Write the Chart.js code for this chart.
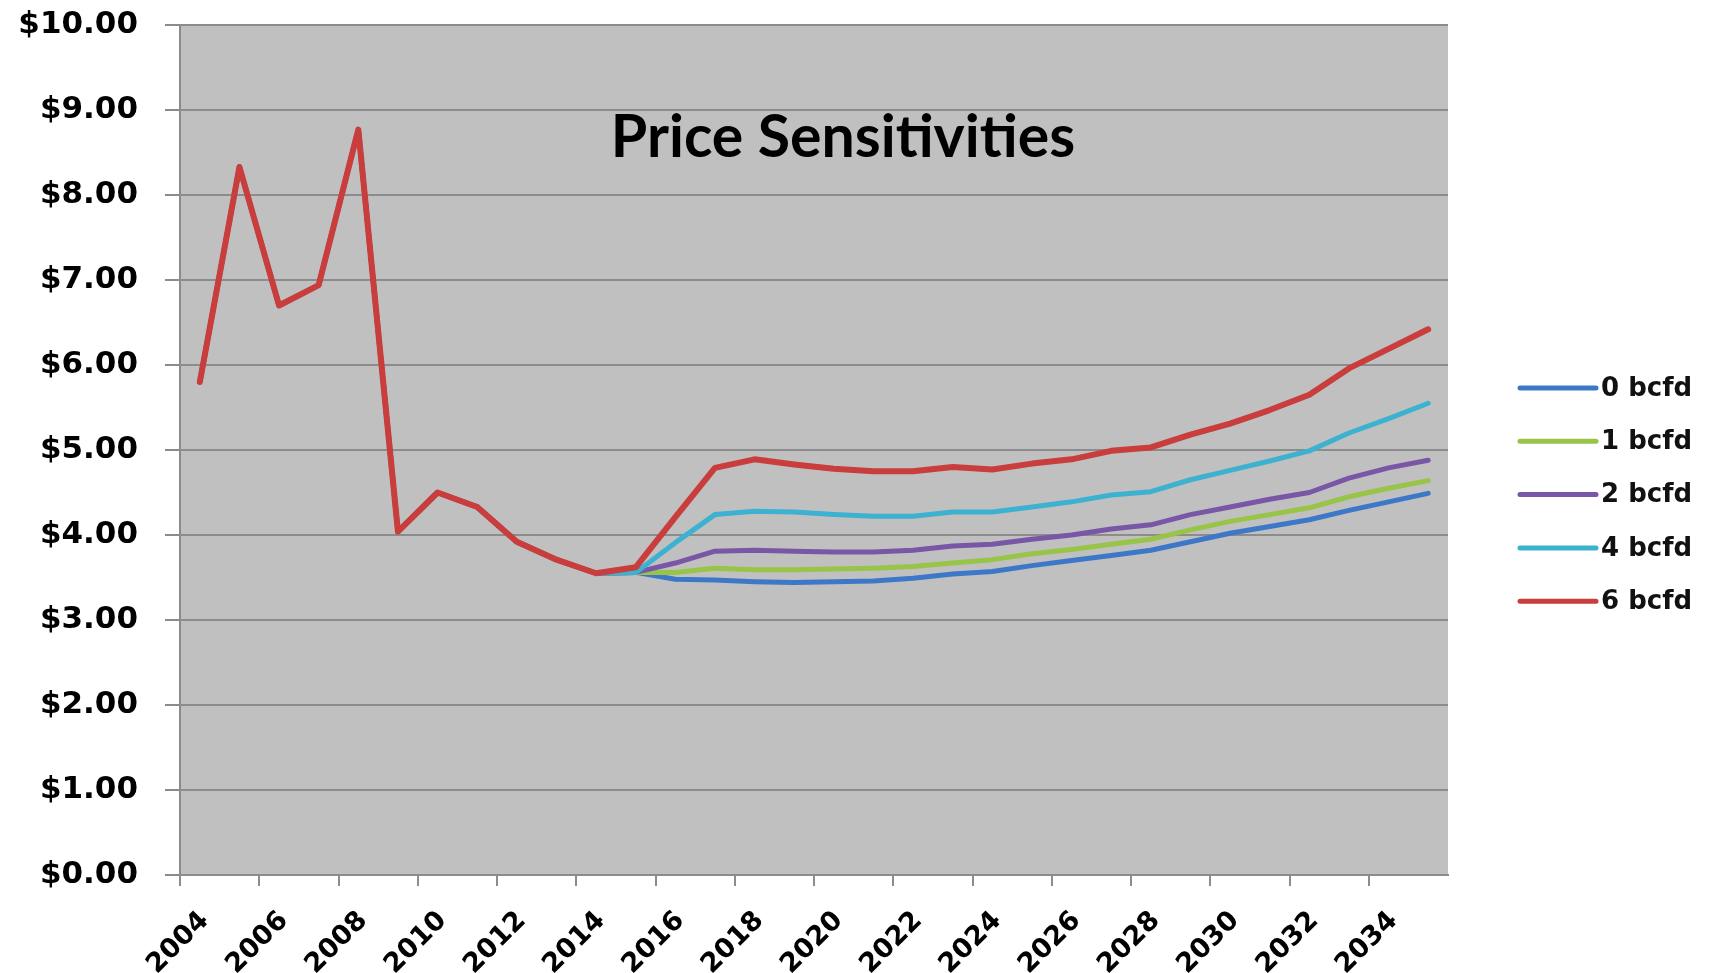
<!DOCTYPE html>
<html>
<head>
<meta charset="utf-8">
<title>Price Sensitivities</title>
<script src="https://cdn.jsdelivr.net/npm/chart.js@4"></script>
<style>
    body { margin: 0; background: #ffffff; }
    #wrap { width: 1709px; height: 973px; }
</style>
</head>
<body>
<div id="wrap"><canvas id="priceChart" width="1709" height="973"></canvas></div>
<script>

// years on the category axis
const years = ["2004","2005","2006","2007","2008","2009","2010","2011","2012","2013","2014",
    "2015","2016","2017","2018","2019","2020","2021","2022","2023","2024","2025",
    "2026","2027","2028","2029","2030","2031","2032","2033","2034","2035"];

// shared history 2004-2014 ($/MMBtu)
const history = [5.80, 8.33, 6.70, 6.94, 8.77, 4.04, 4.50, 4.33, 3.92, 3.71, 3.55];

// projections 2015-2035 for each export case
const bcfd0 = [3.56, 3.48, 3.47, 3.45, 3.44, 3.45, 3.46, 3.49, 3.54, 3.57, 3.64,
    3.70, 3.76, 3.82, 3.92, 4.02, 4.10, 4.18, 4.29, 4.39, 4.49];
const bcfd1 = [3.56, 3.56, 3.61, 3.59, 3.59, 3.60, 3.61, 3.63, 3.67, 3.71, 3.78,
    3.83, 3.89, 3.95, 4.06, 4.16, 4.24, 4.32, 4.45, 4.55, 4.64];
const bcfd2 = [3.56, 3.67, 3.81, 3.82, 3.81, 3.80, 3.80, 3.82, 3.87, 3.89, 3.95,
    4.00, 4.07, 4.12, 4.24, 4.33, 4.42, 4.50, 4.67, 4.79, 4.88];
const bcfd4 = [3.56, 3.91, 4.24, 4.28, 4.27, 4.24, 4.22, 4.22, 4.27, 4.27, 4.33,
    4.39, 4.47, 4.51, 4.65, 4.76, 4.87, 4.99, 5.20, 5.37, 5.55];
const bcfd6 = [3.62, 4.21, 4.79, 4.89, 4.83, 4.78, 4.75, 4.75, 4.80, 4.77, 4.84,
    4.89, 4.99, 5.03, 5.18, 5.31, 5.47, 5.65, 5.96, 6.19, 6.42];

const seriesNames = ["0 bcfd", "1 bcfd", "2 bcfd", "4 bcfd", "6 bcfd"];
const seriesColors = ["#3d78c8", "#98c448", "#7a56a6", "#3db1d0", "#c93d3d"];

// y ticks
const yMin = 0;
const yMax = 10;
const yStep = 1;

document.addEventListener("DOMContentLoaded", () => {

    const ctx = document.getElementById("priceChart");

    if(!ctx) return;

    const projections = [bcfd0, bcfd1, bcfd2, bcfd4, bcfd6];

    const datasets = projections.map((proj, i) => ({
        label: seriesNames[i],
        data: history.concat(proj),
        borderColor: seriesColors[i],
        backgroundColor: seriesColors[i],
        borderWidth: i === 4 ? 6 : 5,
        pointRadius: 0,
        tension: 0,
        borderJoinStyle: "round",
        borderCapStyle: "round",
        // red drawn on top of the others
        order: 5 - i
    }));

    // title sits inside the plot
    const titlePlugin = {
        id: "insideTitle",
        afterDraw(chart) {
            const c = chart.ctx;
            const a = chart.chartArea;
            c.save();
            c.font = "bold 59px Lato";
            c.fillStyle = "#000";
            c.textAlign = "center";
            c.textBaseline = "alphabetic";
            c.fillText("Price Sensitivities", (a.left + a.right) / 2 + 29, a.top + 132);
            c.restore();
        }
    };

    // legend to the right of the plot
    const sideLegend = {
        id: "sideLegend",
        afterDraw(chart) {
            const c = chart.ctx;
            const a = chart.chartArea;
            const x0 = a.right + 72;
            const y0 = 388;
            c.save();
            c.font = "bold 26px 'DejaVu Sans'";
            c.textBaseline = "middle";
            c.textAlign = "left";
            chart.data.datasets.forEach((ds, i) => {
                const y = y0 + i * 53.3;
                c.strokeStyle = ds.borderColor;
                c.lineWidth = 5;
                c.lineCap = "round";
                c.beginPath();
                c.moveTo(x0, y);
                c.lineTo(x0 + 76, y);
                c.stroke();
                c.fillStyle = "#111";
                c.fillText(ds.label, x0 + 81, y + 1);
            });
            c.restore();
        }
    };

    // grey plot background
    const plotBg = {
        id: "plotBg",
        beforeDraw(chart) {
            const c = chart.ctx;
            const a = chart.chartArea;
            c.save();
            c.fillStyle = "#c0c0c0";
            c.fillRect(a.left, a.top, a.right - a.left, a.bottom - a.top);
            c.restore();
        }
    };

    new Chart(ctx, {

        type: "line",

        data: {
            labels: years,
            datasets: datasets
        },

        options: {

            responsive:false,

            animation:false,

            layout:{
                padding:{ top:25, right:261, bottom:0, left:0 }
            },

            plugins:{
                legend:{ display:false },
                tooltip:{ enabled:false }
            },

            scales:{

                x:{
                    offset:true,
                    afterFit:(scale) => {
                        scale.height = 98;
                        scale.paddingLeft = 0;
                        scale.paddingRight = 0;
                    },
                    grid:{
                        offset:true,
                        drawOnChartArea:false,
                        drawTicks:true,
                        tickLength:11,
                        // tick marks only every other year
                        color:(c) => (c.index % 2 === 0 ? "#8c8c8c" : "rgba(0,0,0,0)"),
                        lineWidth:2
                    },
                    border:{ color:"#8c8c8c", width:2 },
                    ticks:{
                        autoSkip:false,
                        maxRotation:45,
                        minRotation:45,
                        padding:19,
                        labelOffset:5,
                        color:"#000",
                        font:{ family:"DejaVu Sans", size:27, weight:"bold" },
                        callback:function(value, index){
                            return index % 2 === 0 ? this.getLabelForValue(value) : "";
                        }
                    }
                },

                y:{
                    min:yMin,
                    max:yMax,
                    afterFit:(scale) => {
                        scale.width = 180;
                        scale.paddingTop = 0;
                        scale.paddingBottom = 0;
                    },
                    grid:{
                        color:"#8c8c8c",
                        lineWidth:2,
                        tickLength:15
                    },
                    border:{ color:"#8c8c8c", width:2 },
                    ticks:{
                        stepSize:yStep,
                        padding:27,
                        color:"#000",
                        font:{ family:"DejaVu Sans", size:31, weight:"bold" },
                        callback:(v) => "$" + v.toFixed(2)
                    }
                }

            }

        },

        plugins:[plotBg, titlePlugin, sideLegend]

    });

});
</script>
</body>
</html>
